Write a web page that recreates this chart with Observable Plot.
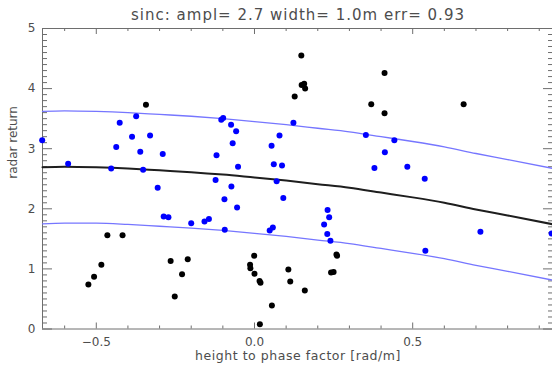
<!DOCTYPE html>
<html>
<head>
<meta charset="utf-8">
<script src="https://cdn.jsdelivr.net/npm/d3@7"></script>
<script src="https://cdn.jsdelivr.net/npm/@observablehq/plot@0.6"></script>
<style>
  html, body { margin: 0; padding: 0; background: #fff; }
  #chart svg { display: block; }
</style>
</head>
<body>
<div id="chart"></div>
<script>
// ---- data ----
const titleText = "sinc: ampl= 2.7 width= 1.0m err= 0.93";
const xLabel = "height to phase factor [rad/m]";
const yLabel = "radar return";

const xMajorTicks = [-0.5, 0.0, 0.5];
const xMinorTicks = [-0.6, -0.4, -0.3, -0.2, -0.1, 0.1, 0.2, 0.3, 0.4, 0.6, 0.7, 0.8, 0.9];
const yMajorTicks = [0, 1, 2, 3, 4, 5];

// fitted curve (black) and error band (blue), read along the x grid
const curveX     = [-0.67, -0.6, -0.5, -0.4, -0.3, -0.2, -0.1, 0.0, 0.1, 0.2, 0.3, 0.4, 0.5, 0.6, 0.7, 0.8, 0.945];
const curveMid   = [2.69, 2.70, 2.69, 2.67, 2.64, 2.61, 2.57, 2.52, 2.47, 2.41, 2.35, 2.27, 2.19, 2.10, 1.99, 1.89, 1.74];
const curveUpper = [3.62, 3.63, 3.62, 3.60, 3.57, 3.54, 3.50, 3.45, 3.40, 3.34, 3.28, 3.20, 3.12, 3.03, 2.92, 2.82, 2.67];
const curveLower = [1.75, 1.76, 1.76, 1.74, 1.71, 1.68, 1.64, 1.59, 1.54, 1.48, 1.42, 1.34, 1.26, 1.17, 1.06, 0.96, 0.81];

// points inside the band (blue)
const blueX = [-0.671, -0.589, -0.453, -0.437, -0.426, -0.387, -0.374, -0.361, -0.352, -0.330,
               -0.306, -0.290, -0.287, -0.272, -0.200, -0.158, -0.144, -0.123, -0.120, -0.105,
               -0.099, -0.095, -0.094, -0.074, -0.073, -0.069, -0.058, -0.055, -0.052, 0.048,
               0.054, 0.058, 0.061, 0.070, 0.079, 0.087, 0.091, 0.123, 0.220, 0.230,
               0.231, 0.236, 0.240, 0.352, 0.379, 0.412, 0.442, 0.483, 0.538, 0.540,
               0.714, 0.939];
const blueY = [3.14, 2.75, 2.67, 3.03, 3.43, 3.20, 3.54, 2.95, 2.65, 3.22,
               2.35, 2.91, 1.87, 1.86, 1.76, 1.79, 1.83, 2.48, 2.89, 3.48,
               3.51, 2.16, 1.65, 3.40, 2.37, 3.09, 3.29, 2.02, 2.70, 1.64,
               3.05, 1.69, 2.74, 2.46, 3.22, 2.72, 2.18, 3.43, 1.74, 1.58,
               1.98, 1.86, 1.47, 3.23, 2.68, 2.94, 3.14, 2.70, 2.50, 1.30,
               1.62, 1.59];

// points outside the band (black)
const blackX = [-0.525, -0.507, -0.484, -0.465, -0.417, -0.343, -0.265, -0.252, -0.229, -0.211,
                -0.014, -0.013, -0.001, 0.000, 0.016, 0.019, 0.017, 0.055, 0.107, 0.113,
                0.127, 0.148, 0.149, 0.157, 0.160, 0.159, 0.242, 0.250, 0.259, 0.261,
                0.369, 0.411, 0.411, 0.661];
const blackY = [0.74, 0.87, 1.07, 1.56, 1.56, 3.73, 1.13, 0.54, 0.91, 1.16,
                1.07, 1.01, 1.22, 0.92, 0.80, 0.77, 0.08, 0.39, 0.99, 0.79,
                3.87, 4.55, 4.06, 4.08, 4.00, 0.64, 0.94, 0.95, 1.24, 1.22,
                3.74, 4.26, 3.59, 3.74];

// ---- build tables ----
const curve = curveX.map((x, i) => ({x, mid: curveMid[i], up: curveUpper[i], lo: curveLower[i]}));
const blue = blueX.map((x, i) => ({x, y: blueY[i]}));
const black = blackX.map((x, i) => ({x, y: blackY[i]}));

const xDomain = [-0.670, 0.945];
const yDomain = [0, 5];
const yMinorTicks = d3.range(1, 50).map(i => i / 10).filter(v => Math.abs(v - Math.round(v)) > 1e-6);

const axisColor = "#6e6e6e";
const textColor = "#4d4d4d";
const font = "DejaVu Sans";

// tick lengths expressed in data units (6px / 3px vertical, 10px / 5px horizontal)
const W = 552, H = 370, mL = 42, mR = -1, mT = 28, mB = 41.5;
const xPerPx = (xDomain[1] - xDomain[0]) / (W - mR - mL);
const yPerPx = (yDomain[1] - yDomain[0]) / (H - mB - mT);

const chart = Plot.plot({
  width: W, height: H,
  marginLeft: mL, marginRight: mR, marginTop: mT, marginBottom: mB,
  x: {domain: xDomain, range: [mL, W - mR]},
  y: {domain: yDomain, range: [H - mB, mT]},
  style: {fontFamily: font, background: "#fff", overflow: "visible"},
  marks: [
    // frame
    Plot.ruleY([0, 5], {stroke: axisColor, strokeWidth: 1}),
    Plot.ruleX([xDomain[0], xDomain[1]], {stroke: axisColor, strokeWidth: 1}),
    // x ticks (bottom & top, inward)
    Plot.ruleX(xMajorTicks, {y1: 0, y2: 6 * yPerPx, stroke: axisColor}),
    Plot.ruleX(xMinorTicks, {y1: 0, y2: 3 * yPerPx, stroke: axisColor}),
    Plot.ruleX(xMajorTicks, {y1: 5, y2: 5 - 6 * yPerPx, stroke: axisColor}),
    Plot.ruleX(xMinorTicks, {y1: 5, y2: 5 - 3 * yPerPx, stroke: axisColor}),
    // y ticks (left & right, inward)
    Plot.ruleY(yMajorTicks, {x1: xDomain[0], x2: xDomain[0] + 10 * xPerPx, stroke: axisColor}),
    Plot.ruleY(yMinorTicks, {x1: xDomain[0], x2: xDomain[0] + 5 * xPerPx, stroke: axisColor}),
    Plot.ruleY(yMajorTicks, {x1: xDomain[1], x2: xDomain[1] - 10 * xPerPx, stroke: axisColor}),
    Plot.ruleY(yMinorTicks, {x1: xDomain[1], x2: xDomain[1] - 5 * xPerPx, stroke: axisColor}),
    // tick labels
    Plot.axisX({ticks: xMajorTicks, tickSize: 0, tickPadding: 8, tickFormat: d3.format(".1f"),
                fontSize: 12, fill: textColor, label: null}),
    Plot.axisY({ticks: yMajorTicks, tickSize: 0, tickPadding: 7, tickFormat: d3.format("d"),
                fontSize: 12, fill: textColor, label: null}),
    // curves
    Plot.line(curve, {x: "x", y: "up", stroke: "#7676ff", strokeWidth: 1.3, curve: "monotone-x"}),
    Plot.line(curve, {x: "x", y: "lo", stroke: "#7676ff", strokeWidth: 1.3, curve: "monotone-x"}),
    Plot.line(curve, {x: "x", y: "mid", stroke: "#1e1e1e", strokeWidth: 2, curve: "monotone-x"}),
    // points
    Plot.dot(black, {x: "x", y: "y", r: 3, fill: "#000", stroke: null}),
    Plot.dot(blue, {x: "x", y: "y", r: 3, fill: "#0000ff", stroke: null}),
    // titles
    Plot.text([titleText], {frameAnchor: "top", dy: -13, fontSize: 15, fill: textColor,
                            lineAnchor: "middle", fontFamily: font}),
    Plot.text([xLabel], {frameAnchor: "bottom", dy: 27, fontSize: 12.5, fill: textColor,
                         lineAnchor: "middle", fontFamily: font}),
    Plot.text([yLabel], {frameAnchor: "left", dx: -29, rotate: -90, fontSize: 12, fill: textColor,
                         lineAnchor: "middle", fontFamily: font})
  ]
});
// wider glyph spacing, like the original vector font
d3.select(chart).selectAll("text").each(function () {
  const t = this.textContent;
  if (t === titleText) this.style.letterSpacing = "1px";
  else if (t === xLabel) this.style.letterSpacing = "0.55px";
});
document.getElementById("chart").appendChild(chart);
</script>
</body>
</html>
